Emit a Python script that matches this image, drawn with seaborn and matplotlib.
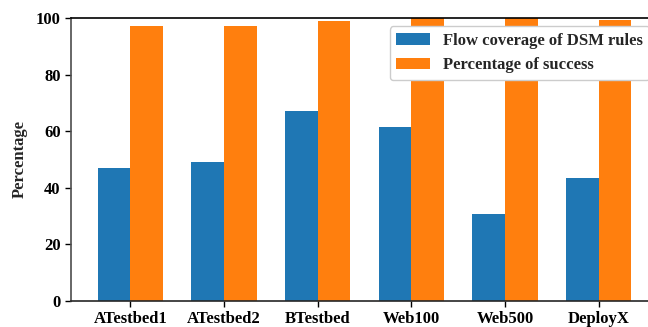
import matplotlib
matplotlib.use("Agg")
import matplotlib.pyplot as plt
import seaborn as sns
import pandas as pd

# Per-testbed results (percent)
categories = ["ATestbed1", "ATestbed2", "BTestbed", "Web100", "Web500", "DeployX"]
flow_coverage = [47.0, 49.2, 67.1, 61.5, 30.7, 43.5]
success_rate = [97.2, 97.2, 99.1, 100.0, 100.0, 99.3]
series_names = ["Flow coverage of DSM rules", "Percentage of success"]

df = pd.DataFrame({
    "testbed": categories * 2,
    "value": flow_coverage + success_rate,
    "series": [series_names[0]] * len(categories) + [series_names[1]] * len(categories),
})

sns.set_style("ticks")
plt.rcParams["font.family"] = ["Liberation Serif", "DejaVu Serif"]
plt.rcParams["font.weight"] = "bold"

fig = plt.figure(figsize=(6.48, 3.27), dpi=100)
ax = fig.add_axes([0.1096, 0.0795, 0.9058, 0.8655])

sns.barplot(
    data=df, x="testbed", y="value", hue="series",
    palette=["#1f77b4", "#ff7f0e"], width=0.7, gap=0,
    saturation=1, ax=ax, errorbar=None,
)
for p in ax.patches:
    p.set_edgecolor("none")

ax.set_xlim(-0.635, 5.635)
ax.set_ylim(0, 100)
ax.set_yticks([0, 20, 40, 60, 80, 100])
ax.set_xlabel("")
ax.set_ylabel("Percentage", fontsize=12, fontweight="bold", labelpad=6)
ax.tick_params(axis="both", labelsize=12, colors="black", length=4, width=1)
for lab in ax.get_xticklabels() + ax.get_yticklabels():
    lab.set_fontweight("bold")

for side in ["left", "bottom", "top", "right"]:
    ax.spines[side].set_visible(True)
    ax.spines[side].set_linewidth(1.2)
ax.spines["left"].set_color("0.3")
ax.spines["bottom"].set_color("0.15")
ax.spines["top"].set_color("black")
ax.spines["right"].set_color("black")

leg = ax.legend(loc="upper right", frameon=True, framealpha=1,
                prop={"weight": "bold", "size": 12})
leg.get_frame().set_edgecolor("0.8")

fig.savefig("out.png", dpi=100)
